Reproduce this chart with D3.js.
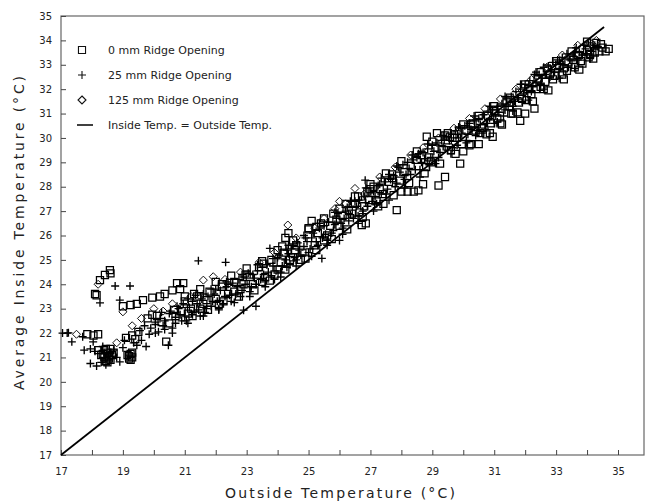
<!DOCTYPE html>
<html>
<head>
<meta charset="utf-8">
<script src="https://cdn.jsdelivr.net/npm/d3@7"></script>
<style>
  body { margin: 0; background: #fff; }
  svg { display: block; font-family: "DejaVu Sans", sans-serif; }
</style>
</head>
<body>
<svg id="chart" width="645" height="504"></svg>
<script>
// tick values for both axes (deg C)
const xTicks = d3.range(17, 36);
const xLabels = [17, 19, 21, 23, 25, 27, 29, 31, 33, 35];
const yTicks = d3.range(17, 36);

const legendLabels = ['0 mm Ridge Opening', '25 mm Ridge Opening', '125 mm Ridge Opening', 'Inside Temp. = Outside Temp.'];

// reference line inside = outside
const lineData = [[17, 17], [34.55, 34.55]];

// 0 mm ridge opening, [outside, inside]
const ridge0 = [
  [17.85,21.95],[18.05,21.9],[18.2,21.95],[18.1,23.6],[18.15,23.55],[18.26,24.17],[18.42,24.38],[18.58,24.58],[18.6,24.45],
  [19.0,23.1],[19.25,23.15],[19.45,23.2],[19.65,23.35],[19.95,23.45],[20.2,23.5],[20.35,23.6],[20.6,23.75],[20.85,23.8],
  [20.75,24.05],[20.95,24.05],
  [18.2,21.3],[18.3,21.1],[18.4,21.0],[18.45,20.85],[18.5,21.2],[18.55,21.05],[18.6,20.9],[18.5,20.8],[18.4,21.3],[18.6,21.35],
  [19.15,21.1],[19.2,20.95],[19.25,21.15],[19.3,21.0],[19.1,21.8],[19.3,21.9],[19.5,22.05],[19.4,21.75],[19.8,22.6],[19.95,22.75],
  [20.1,22.7],[20.4,21.65],
  [18.35,21.15],[18.45,21.35],[18.55,20.95],[18.65,21.1],[18.5,21.0],[18.7,21.2],[19.2,21.05],[19.3,21.2],[19.25,20.9],
  [20.5,22.4],[20.7,22.7],[20.9,22.9],[21.0,23.3],[21.2,23.0],[21.4,23.5],[21.6,23.2],[21.8,23.7],[22.0,23.4],[22.2,23.9],
  [22.4,23.6],[22.6,24.1],[22.8,23.8],[23.0,24.4],[23.2,24.0],[23.4,24.7],[23.6,24.3],[23.8,25.0],[24.0,24.6],[24.2,25.3],
  [24.25,25.9],[24.35,26.1],[24.4,25.0],[24.6,25.6],[24.8,25.3],[25.0,26.3],[25.1,26.6],[25.2,25.6],[25.4,26.5],[25.6,26.0],
  [25.8,26.9],[26.0,26.4],[26.2,27.3],
  [26.4,26.9],[26.6,27.6],[26.72,26.43],[26.85,26.5],[26.8,27.2],[27.0,27.9],[27.2,27.4],[27.42,27.3],[27.6,28.2],[27.85,27.04],
  [28.0,27.8],[28.2,27.8],[28.4,27.8],[28.55,27.85],[28.7,28.1],[28.82,30.05],[28.9,29.2],[29.15,30.2],[29.2,28.05],[29.4,30.1],
  [29.41,28.4],[29.6,29.5],[29.7,30.15],[29.9,28.95],[30.0,29.45],[30.2,29.7],[30.3,30.6],[30.5,29.75],[30.6,30.4],[30.86,30.2],
  [30.95,30.05],[31.0,31.1],[31.2,30.6],[31.4,31.5],[31.6,31.0],[31.84,30.7],[32.0,31.0],[32.1,32.0],[32.3,31.2],[32.4,32.4],
  [32.6,32.0],[32.7,32.85],[32.9,32.4],[33.1,33.0],[33.35,32.75],[33.5,33.3],[33.6,32.9],[33.85,33.05],[34.0,33.6],[34.2,33.25],
  [34.3,33.9],[34.4,33.55],[34.5,33.7],[34.7,33.65],
  [21.1,22.8],[21.5,23.0],[22.1,23.2],[22.9,24.0],[23.5,24.1],[24.1,24.9],[24.5,25.1],[25.3,26.1],[25.7,26.4],[26.1,26.8],
  [26.5,27.3],[26.9,27.8],[27.3,27.9],[27.7,28.5],[28.1,28.6],[28.5,29.1],[28.8,28.8],[29.1,29.6],[29.5,29.9],[29.8,30.0],
  [30.1,30.3],[30.4,30.3],[30.8,30.9],[31.1,30.8],[31.5,31.3],[31.9,31.6],[32.2,31.8],[32.5,32.1],[32.8,32.6],[33.2,32.6],
  [33.4,33.1],[33.7,33.4],[34.1,33.45],
  [20.25,22.45],[20.65,22.95],[21.3,23.6],[21.7,23.35],[22.2,24.0],[22.6,23.7],[23.1,24.3],[23.55,24.85],[23.9,24.4],[24.15,25.55],
  [24.55,25.4],[24.9,25.05],[25.25,26.35],[25.5,25.8],[25.9,26.65],[26.3,27.05],[26.65,26.95],[26.95,27.45],[27.1,28.0],[27.4,27.7],
  [27.7,28.35],[27.95,28.25],[28.3,28.85],[28.65,29.3],[28.95,29.0],[29.3,29.55],[29.65,30.0],[29.95,29.75],[30.25,30.55],[30.55,30.2],
  [30.9,30.6],[31.2,31.2],[31.55,31.0],[31.8,31.45],[32.05,31.55],[32.35,32.0],[32.65,32.3],[32.95,32.55],[33.25,32.85],[33.55,33.2],
  [33.8,33.15],[34.05,33.3],[34.25,33.5],[34.45,33.85],[34.6,33.55],
  [21.0,23.5],[21.5,23.8],[22.0,24.1],[22.5,24.35],[23.0,24.65],[23.5,24.95],[24.0,25.4],[24.5,25.8],[25.0,26.25],[25.5,26.7],
  [26.0,27.1],[26.5,27.6],[27.0,28.1],[27.5,28.55],[28.0,29.05],[28.5,29.45],[29.0,29.85],[29.5,30.2],[30.0,30.55],[30.5,30.9],
  [31.0,31.3],[31.5,31.65],[32.0,32.2],[32.5,32.7],[33.0,33.15],[33.5,33.55],[34.0,33.95],
  [21.25,22.7],[21.75,22.95],[22.25,23.3],[22.75,23.5],[23.25,23.75],[23.75,24.15],[24.25,24.6],[24.75,25.0],[25.25,25.4],[25.75,25.85],
  [26.25,26.25],[26.75,26.75],[27.25,27.2],[27.75,27.65],[28.25,28.15],[28.75,28.55],[29.25,28.95],[29.75,29.35],[30.25,29.75],[30.75,30.15],
  [31.25,30.55],[31.75,31.05],[32.25,31.5],[32.75,31.95],[33.25,32.4],[33.75,32.8]
];

// 25 mm ridge opening
const ridge25 = [
  [17.05,22.0],[17.2,22.0],[17.24,22.01],[17.35,21.64],[17.7,21.85],[18.04,21.64],[17.75,21.3],[17.95,21.35],[18.1,21.25],
  [17.95,20.75],[18.15,20.65],[18.3,20.8],[18.45,20.7],[18.9,20.82],[18.26,23.24],[18.75,23.93],[19.23,23.93],[18.9,23.35],
  [19.45,21.5],[19.6,21.7],[19.75,21.45],[19.85,21.95],[19.55,22.1],[19.7,22.3],[19.9,22.2],[20.05,22.35],[20.15,22.05],
  [20.47,21.5],[18.6,21.15],[18.7,21.3],[18.8,21.0],[19.0,21.4],[19.05,21.7],[19.35,21.6],[18.35,21.45],
  [21.44,24.96],[22.32,24.9],[23.75,25.47],[25.43,25.06],[24.3,24.7],[26.0,25.8],[26.83,28.27],[22.9,22.94],[23.3,23.1],
  [20.3,22.3],[20.5,22.8],[20.6,22.2],[20.8,23.0],[20.9,22.5],[21.0,22.7],[21.1,23.4],[21.3,22.9],[21.4,23.2],[21.5,22.7],
  [21.6,23.6],[21.7,23.0],[21.9,23.3],[22.0,23.8],[22.1,23.0],[22.3,23.5],[22.4,24.0],[22.5,23.3],[22.7,23.9],[22.8,23.5],
  [22.9,24.3],[23.1,23.7],[23.2,24.4],[23.3,24.0],[23.5,24.7],[23.6,24.1],[23.7,24.5],[23.9,24.2],[24.0,25.1],[24.1,24.5],
  [24.3,25.4],[24.4,24.8],[24.5,25.6],[24.6,25.0],[24.7,25.4],[24.9,25.9],[25.0,25.3],[25.1,25.9],[25.3,25.6],[25.5,26.4],
  [25.6,25.8],[25.8,26.2],[25.9,26.7],[26.1,26.3],[26.2,27.0],[26.3,26.6],[26.5,27.4],[26.6,26.8],[26.8,27.6],[26.9,27.2],
  [27.1,27.8],
  [27.2,27.3],[27.3,28.1],[27.5,27.7],[27.6,28.5],[27.8,28.0],[27.9,28.8],[28.1,28.3],[28.2,29.0],[28.3,28.5],[28.5,29.2],
  [28.6,28.7],[28.7,29.4],[28.9,28.9],[29.0,29.7],[29.2,29.2],[29.3,29.9],[29.5,29.5],[29.6,30.2],[29.8,29.7],[29.9,30.4],
  [30.1,29.9],[30.2,30.6],[30.4,30.1],[30.5,30.8],[30.7,30.4],[30.8,31.1],[31.0,30.6],[31.1,31.3],[31.3,30.9],[31.4,31.6],
  [31.6,31.3],[31.7,31.9],[31.9,31.5],[32.0,32.2],[32.2,31.9],[32.3,32.6],[32.5,32.2],[32.6,32.9],[32.8,32.5],[32.9,33.1],
  [33.1,32.8],[33.2,33.3],[33.4,32.9],[33.6,33.5],[33.7,33.2],[33.9,33.8],[34.0,33.4],[34.2,33.7],
  [20.05,22.0],[20.05,22.45],[20.2,22.6],[20.35,22.15],[20.35,22.5],[20.55,22.9],[20.7,22.4],[20.7,22.65],[20.85,22.75],[20.95,23.2],
  [21.05,22.5],[21.15,23.05],[21.25,22.75],[21.25,23.3],[21.45,22.95],[21.55,23.4],[21.65,22.85],[21.75,23.5],[21.85,23.1],[21.95,23.6],
  [22.05,23.3],[22.15,23.75],[22.25,23.2],[22.35,23.9],[22.45,23.55],[22.55,24.05],[22.65,23.6],[22.75,24.2],[22.85,23.75],[22.95,24.0],
  [23.05,24.45],[23.15,23.9],[23.25,24.25],[23.35,24.55],[23.45,24.2],[23.55,24.4],[23.65,24.8],[23.8,24.35],[23.85,24.75],[23.95,24.55],
  [24.05,25.2],[24.15,24.75],[24.25,25.0],[24.35,25.25],[24.45,25.45],[24.55,25.1],[24.65,25.7],[24.75,25.2],[24.85,25.55],[24.95,25.75],
  [25.05,25.45],[25.15,26.1],[25.25,25.75],[25.35,26.3],[25.45,25.9],[25.55,26.05],[25.65,26.55],[25.75,26.1],[25.85,26.45],[25.95,26.9],
  [26.05,26.5],[26.15,26.7],[26.25,27.15],[26.35,26.85],[26.45,26.7],[26.55,27.2],[26.65,27.45],[26.75,27.0],[26.85,27.35],[26.95,27.75],
  [27.05,27.4],[27.15,27.6],[27.25,28.05],[27.35,27.7],[27.45,28.2],[27.55,27.9],[27.65,28.3],[27.75,28.45],[27.85,28.15],[27.95,28.6],
  [28.05,28.9],[28.15,28.5],[28.25,28.75],[28.35,29.1],[28.45,28.7],[28.55,29.35],[28.65,29.0],[28.75,29.15],[28.85,29.55],[28.95,29.2],
  [29.05,29.45],[29.15,29.8],[29.25,29.4],[29.35,29.65],[29.45,30.05],[29.55,29.9],[29.65,29.6],[29.75,30.3],[29.85,30.0],[29.95,30.2],
  [30.05,30.5],[30.15,30.15],[30.25,30.35],[30.35,30.7],[30.45,30.3],[30.55,30.55],[30.65,30.95],[30.75,30.6],[30.85,30.8],[30.95,31.15],
  [31.05,30.9],[31.15,31.05],[31.25,31.4],[31.35,31.15],[31.45,31.3],[31.55,31.7],[31.65,31.5],[31.75,31.65],[31.85,32.0],[31.95,31.8],
  [32.05,31.95],[32.15,32.35],[32.25,32.1],[32.35,32.3],[32.45,32.6],[32.55,32.45],[32.65,32.6],[32.75,32.95],[32.85,32.8],[32.95,32.7],
  [33.05,33.2],[33.15,33.05],[33.25,33.0],[33.35,33.45],[33.45,33.2],[33.55,33.35],[33.65,33.7],[33.75,33.5],[33.85,33.4],[33.95,33.65],
  [34.05,33.9],[34.15,33.55],[34.25,33.8],[34.35,33.75],
  [20.25,22.85],[20.75,23.1],[21.35,23.55],[21.85,23.8],[22.35,24.1],[22.85,24.4],[23.35,24.8],[23.85,25.05],[24.35,25.6],[24.85,26.0],
  [25.35,26.5],[25.85,26.95],[26.35,27.4],[26.85,27.95],[27.35,28.35],[27.85,28.85],[28.35,29.3],[28.85,29.75],[29.35,30.1],[29.85,30.45],
  [30.35,30.9],[30.85,31.3],[31.35,31.7],[31.85,32.2],[32.35,32.7],
  [20.6,22.0],[21.1,22.4],[21.6,22.7],[22.1,22.95],[22.6,23.25],[23.1,23.5],[23.6,23.9],[24.1,24.3],[24.6,24.75],[25.1,25.15],
  [25.6,25.6],[26.1,26.05],[26.6,26.5],[27.1,27.0],[27.6,27.45],[28.1,27.95],[28.6,28.4],[29.1,28.95],[29.6,29.35],[30.1,29.8],
  [30.6,30.2],[31.1,30.65],[31.6,31.1],[32.1,31.55],[32.6,32.0],[33.1,32.45],[33.6,32.85],[34.1,33.25]
];

// 125 mm ridge opening
const ridge125 = [
  [17.5,21.95],[18.2,24.0],[19.0,22.87],[21.6,24.17],[21.92,24.31],[24.33,26.43],[26.0,27.4],[26.2,27.3],[26.5,27.93],
  [25.85,27.1],[20.0,23.0],[20.3,22.9],[19.6,22.6],[22.3,24.2],[22.8,24.5],[23.4,24.9],[23.9,25.3],[24.6,25.9],[25.2,26.3],
  [25.5,26.7],[26.8,27.7],[27.3,28.4],[27.8,28.8],[28.3,29.3],[28.7,29.6],[29.2,30.0],[29.7,30.4],[30.2,30.8],[30.7,31.2],
  [31.2,31.6],[31.7,32.0],[32.2,32.4],[32.7,32.9],[33.2,33.4],[33.7,33.8],[34.1,33.9],[34.3,34.0],[21.2,23.5],[20.6,23.2],
  [18.8,21.6],[19.3,22.3]
];

const svg = d3.select('#chart');

// scales
const x = d3.scaleLinear().domain([17, 35]).range([61, 618]);
const y = d3.scaleLinear().domain([17, 35]).range([455, 16]);

// plot frame (axis lines + top/right border)
svg.append('rect')
  .attr('x', x(17))
  .attr('y', y(35))
  .attr('width', 644 - x(17))
  .attr('height', y(17) - y(35))
  .attr('fill', 'none')
  .attr('stroke', '#666')
  .attr('stroke-width', 1.2);

// x axis, ticks pointing inward
svg.append('g')
  .attr('transform', `translate(0, ${y(17)})`)
  .call(d3.axisBottom(x)
    .tickValues(xTicks)
    .tickSize(-5)
    .tickPadding(13)
    .tickFormat(d => xLabels.includes(d) ? d : ''))
  .call(g => g.select('.domain').remove())
  .call(g => g.selectAll('line').attr('stroke', '#444'))
  .call(g => g.selectAll('text')
    .attr('font-family', 'DejaVu Sans, sans-serif')
    .attr('font-size', '10px')
    .attr('fill', '#222'));

// y axis
svg.append('g')
  .attr('transform', `translate(${x(17)}, 0)`)
  .call(d3.axisLeft(y)
    .tickValues(yTicks)
    .tickSize(-5)
    .tickPadding(9)
    .tickFormat(d3.format('d')))
  .call(g => g.select('.domain').remove())
  .call(g => g.selectAll('line').attr('stroke', '#444'))
  .call(g => g.selectAll('text')
    .attr('font-family', 'DejaVu Sans, sans-serif')
    .attr('font-size', '10px')
    .attr('fill', '#222'));

// axis titles
svg.append('text')
  .attr('x', 340)
  .attr('y', 498)
  .attr('text-anchor', 'middle')
  .attr('font-size', '14px')
  .attr('fill', '#222')
  .attr('textLength', 230)
  .attr('lengthAdjust', 'spacing')
  .text('Outside Temperature (°C)');

svg.append('text')
  .attr('transform', 'translate(24, 233) rotate(-90)')
  .attr('text-anchor', 'middle')
  .attr('font-size', '14px')
  .attr('fill', '#222')
  .attr('textLength', 314)
  .attr('lengthAdjust', 'spacing')
  .text('Average Inside Temperature (°C)');

// marker shapes
const sq = d3.symbol().type(d3.symbolSquare).size(50);
const diamond = 'M0,-4L4,0L0,4L-4,0Z';
const plus = 'M-4,0H4M0,-4V4';

const plot = svg.append('g');

// identity line
plot.append('path')
  .attr('d', d3.line().x(d => x(d[0])).y(d => y(d[1]))(lineData))
  .attr('fill', 'none')
  .attr('stroke', '#000')
  .attr('stroke-width', 1.8);

plot.selectAll('.r0')
  .data(ridge0)
  .enter()
  .append('path')
  .attr('class', 'r0')
  .attr('transform', d => `translate(${x(d[0])},${y(d[1])})`)
  .attr('d', sq)
  .attr('fill', 'none')
  .attr('stroke', '#000')
  .attr('stroke-width', 1.25);

plot.selectAll('.r25')
  .data(ridge25)
  .enter()
  .append('path')
  .attr('class', 'r25')
  .attr('transform', d => `translate(${x(d[0])},${y(d[1])})`)
  .attr('d', plus)
  .attr('fill', 'none')
  .attr('stroke', '#000')
  .attr('stroke-width', 1.35);

plot.selectAll('.r125')
  .data(ridge125)
  .enter()
  .append('path')
  .attr('class', 'r125')
  .attr('transform', d => `translate(${x(d[0])},${y(d[1])})`)
  .attr('d', diamond)
  .attr('fill', 'none')
  .attr('stroke', '#111')
  .attr('stroke-width', 1);

// legend
const legend = svg.append('g');
const rows = legendLabels.map((label, i) => ({ label, i, cy: 50 + i * 25 }));

legend.selectAll('text')
  .data(rows)
  .enter()
  .append('text')
  .attr('x', 108)
  .attr('y', d => d.cy)
  .attr('dy', '0.35em')
  .attr('font-size', '11px')
  .attr('fill', '#222')
  .text(d => d.label);

legend.selectAll('path')
  .data(rows)
  .enter()
  .append('path')
  .attr('transform', d => `translate(82,${d.cy})`)
  .attr('d', d => [sq(), plus, diamond, 'M-5,0H11'][d.i])
  .attr('fill', 'none')
  .attr('stroke', '#111')
  .attr('stroke-width', d => d.i === 3 ? 1.6 : 1.1);
</script>
</body>
</html>
